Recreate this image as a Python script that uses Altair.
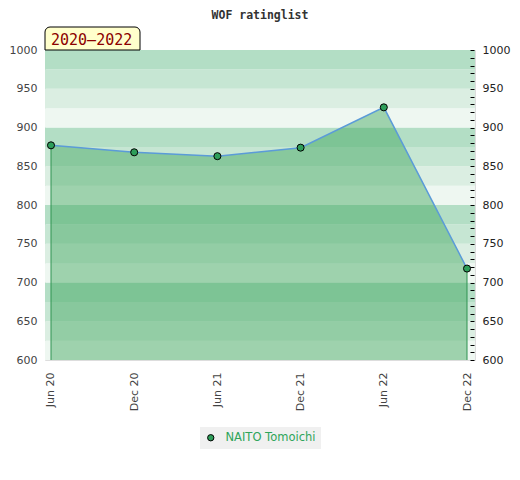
import altair as alt
import pandas as pd

# ---- data ----
periods = ["Jun 20", "Dec 20", "Jun 21", "Dec 21", "Jun 22", "Dec 22"]
ratings = [877, 868, 863, 874, 926, 718]
player = "NAITO Tomoichi"
band_starts = list(range(600, 1000, 25))
band_shades = ["#eef7f1", "#dbeee2", "#c6e6d3", "#b3dec5"]  # low -> high within each 100 block
y_min, y_max = 600, 1000
tick_minor = list(range(600, 1001, 10))
badge_text = "2020–2022"
title_text = "WOF ratinglist"

idx = list(range(len(periods)))
df = pd.DataFrame({"i": idx, "period": periods, "rating": ratings,
                   "base": [y_min] * len(periods), "player": [player] * len(periods)})
bands = pd.DataFrame({
    "lo": band_starts,
    "hi": [b + 25 for b in band_starts],
    "shade": [band_shades[((b - 600) // 25) % 4] for b in band_starts],
})
edges = df.iloc[[0, len(df) - 1]]

label_expr = "[" + ",".join("'" + p + "'" for p in periods) + "][datum.value]"

xscale = alt.Scale(domain=[-0.072, len(periods) - 1 + 0.096], nice=False, zero=False)
yscale = alt.Scale(domain=[y_min, y_max], nice=False, zero=False)

x_axis = alt.Axis(values=idx, labelExpr=label_expr, labelAngle=270, title=None,
                  ticks=False, domain=False, grid=False, labelPadding=12,
                  labelFont="DejaVu Sans", labelFontSize=11, labelColor="#444")
y_left = alt.Axis(values=list(range(600, 1001, 50)), format="d", title=None, ticks=False,
                  domain=False, grid=False, labelPadding=8, labelFont="DejaVu Sans",
                  labelFontSize=11, labelColor="#444")
y_right = alt.Axis(orient="right", values=tick_minor, title=None, domain=False, grid=False,
                   tickSize=4, tickColor="black", tickWidth=1, tickOpacity=1, offset=-5,
                   labelPadding=8, zindex=2,
                   labelExpr="datum.value % 50 == 0 ? datum.value : ''",
                   labelFont="DejaVu Sans", labelFontSize=11, labelColor="#222")

X = lambda: alt.X("i:Q", scale=xscale, axis=x_axis)
Y = lambda f: alt.Y(f, scale=yscale, axis=y_left)

band_layer = alt.Chart(bands).mark_rect().encode(
    x=alt.value(0), x2=alt.value(430),
    y=Y("lo:Q"),
    y2="hi:Q",
    color=alt.Color("shade:N", scale=None, legend=None),
)

area = alt.Chart(df).mark_area(color="#3ba45b", opacity=0.45).encode(
    x=X(), y=Y("rating:Q"), y2="base:Q",
)

line = alt.Chart(df).mark_line(color="#5b9bd8", strokeWidth=1.5).encode(
    x=X(), y=Y("rating:Q"),
)

rules = alt.Chart(edges).mark_rule(color="#2f9350", strokeWidth=1).encode(
    x=X(), y=Y("rating:Q"), y2="base:Q",
)

points = alt.Chart(df).mark_point(filled=True, size=50, stroke="black", strokeWidth=1,
                                  opacity=1, shape="circle").encode(
    x=X(), y=Y("rating:Q"),
    fill=alt.Fill("player:N", scale=alt.Scale(range=["#2e9e5a"]),
                  legend=alt.Legend(title=None, orient="none", legendX=155, legendY=377,
                                    fillColor="#f0f0f0", padding=5, symbolType="circle",
                                    symbolSize=40, symbolStrokeColor="black",
                                    symbolStrokeWidth=1, labelColor="#2ea55a",
                                    labelFont="DejaVu Sans", labelFontSize=11.5,
                                    labelOffset=9)),
)

badge_df = pd.DataFrame({"t": [badge_text]})
badge_box = alt.Chart(badge_df).mark_rect(fill="#ffffcc", stroke="black", strokeWidth=1,
                                          cornerRadiusTopLeft=5, cornerRadiusTopRight=5,
                                          clip=False).encode(
    x=alt.value(0), x2=alt.value(95), y=alt.value(-23), y2=alt.value(0),
)
badge_txt = alt.Chart(badge_df).mark_text(font="DejaVu Sans Mono", fontSize=15, color="#8b0000",
                                          align="left", baseline="middle", clip=False).encode(
    x=alt.value(6), y=alt.value(-10), text="t:N",
)

main = alt.layer(band_layer, area, line, rules, points, badge_box, badge_txt)

right_axis_layer = alt.Chart(bands).mark_rect(opacity=0).encode(
    x=alt.value(0), x2=alt.value(1),
    y=alt.Y("lo:Q", scale=yscale, axis=y_right),
    y2="hi:Q",
)

chart = alt.layer(main, right_axis_layer).resolve_axis(y="independent").properties(
    width=430, height=310,
    title=alt.Title(title_text, font="DejaVu Sans Mono", fontSize=11.5, fontWeight="bold",
                    color="#333", anchor="middle", offset=5, frame="group"),
    autosize=alt.AutoSizeParams(type="none"),
    padding={"left": 37, "top": 42, "right": 37, "bottom": 112},
).configure_view(stroke="#dddddd")

chart.save("out.html", embed_options={"renderer": "svg", "actions": False})
